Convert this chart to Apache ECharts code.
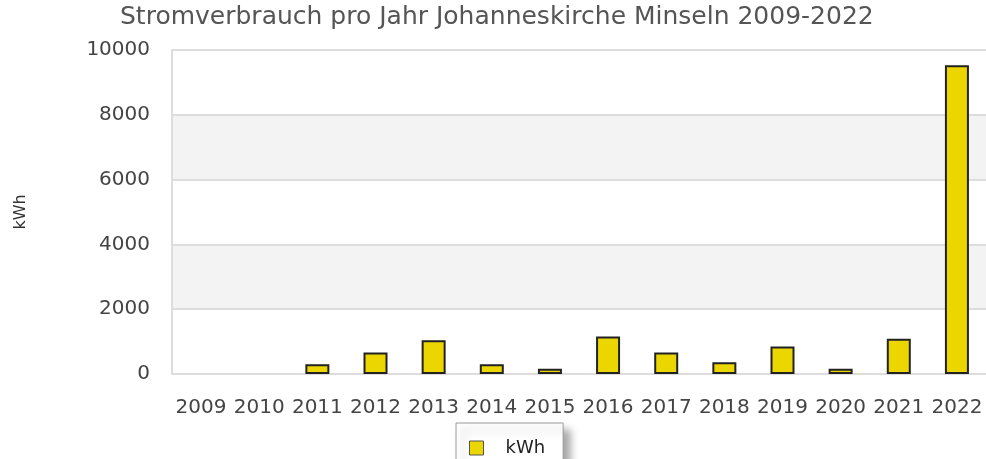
<!DOCTYPE html>
<html>
<head>
<meta charset="utf-8">
<script src="https://cdn.jsdelivr.net/npm/echarts@6/dist/echarts.min.js"></script>
<style>
  html, body { margin: 0; padding: 0; background: #fff; }
  #main { width: 986px; height: 459px; }
</style>
</head>
<body>
<div id="main"></div>
<script>
var years = ['2009', '2010', '2011', '2012', '2013', '2014', '2015', '2016', '2017', '2018', '2019', '2020', '2021', '2022'];
var kwh = [0, 0, 300, 660, 1040, 300, 160, 1160, 660, 360, 850, 160, 1090, 9530];
var yTicks = [0, 10000, 2000];

// keine Umrandung bei 0-Werten
var barData = kwh.map(function (v) {
    return v === 0 ? { value: v, itemStyle: { borderWidth: 0 } } : v;
});

var myChart = echarts.init(document.getElementById('main'));
var option = {
    animation: false,
    textStyle: { fontFamily: 'DejaVu Sans' },
    title: {
        text: 'Stromverbrauch pro Jahr Johanneskirche Minseln 2009-2022',
        left: 120,
        top: 5,
        padding: 0,
        textStyle: { fontSize: 25, fontWeight: 'normal', color: '#555', fontFamily: 'DejaVu Sans' }
    },
    legend: {
        data: ['kWh'],
        icon: 'rect',
        left: 456,
        top: 423,
        padding: [16, 18, 16, 13],
        itemWidth: 14,
        itemHeight: 14,
        backgroundColor: '#fff',
        borderColor: '#999',
        borderWidth: 1,
        shadowColor: 'rgba(0,0,0,0.35)',
        shadowBlur: 8,
        shadowOffsetX: 7,
        shadowOffsetY: 7,
        textStyle: { fontSize: 18, color: '#222', padding: [0, 0, 0, 17] },
        itemStyle: { borderColor: '#555', borderWidth: 1 }
    },
    grid: { left: 172, right: 0, top: 50, bottom: 85 },
    xAxis: {
        type: 'category',
        data: years,
        axisTick: { show: false },
        axisLine: { lineStyle: { color: '#ddd', width: 2 } },
        axisLabel: { fontSize: 20, color: '#444', margin: 24, interval: 0 }
    },
    yAxis: {
        type: 'value',
        name: 'kWh',
        nameLocation: 'middle',
        nameGap: 143,
        nameTextStyle: { fontSize: 16, color: '#333' },
        min: yTicks[0],
        max: yTicks[1],
        interval: yTicks[2],
        axisLine: { show: true, lineStyle: { color: '#ddd', width: 2 } },
        axisTick: { show: false },
        axisLabel: { fontSize: 20, color: '#444', margin: 22, formatter: function (v) { return String(v); } },
        splitLine: { lineStyle: { color: '#ddd', width: 2 } },
        splitArea: { show: true, areaStyle: { color: ['#fff', '#f3f3f3'] } }
    },
    series: [{
        name: 'kWh',
        type: 'bar',
        data: barData,
        barWidth: 24,
        itemStyle: { color: '#ecd600', borderColor: '#222', borderWidth: 2 }
    }]
};
myChart.setOption(option);
</script>
</body>
</html>
